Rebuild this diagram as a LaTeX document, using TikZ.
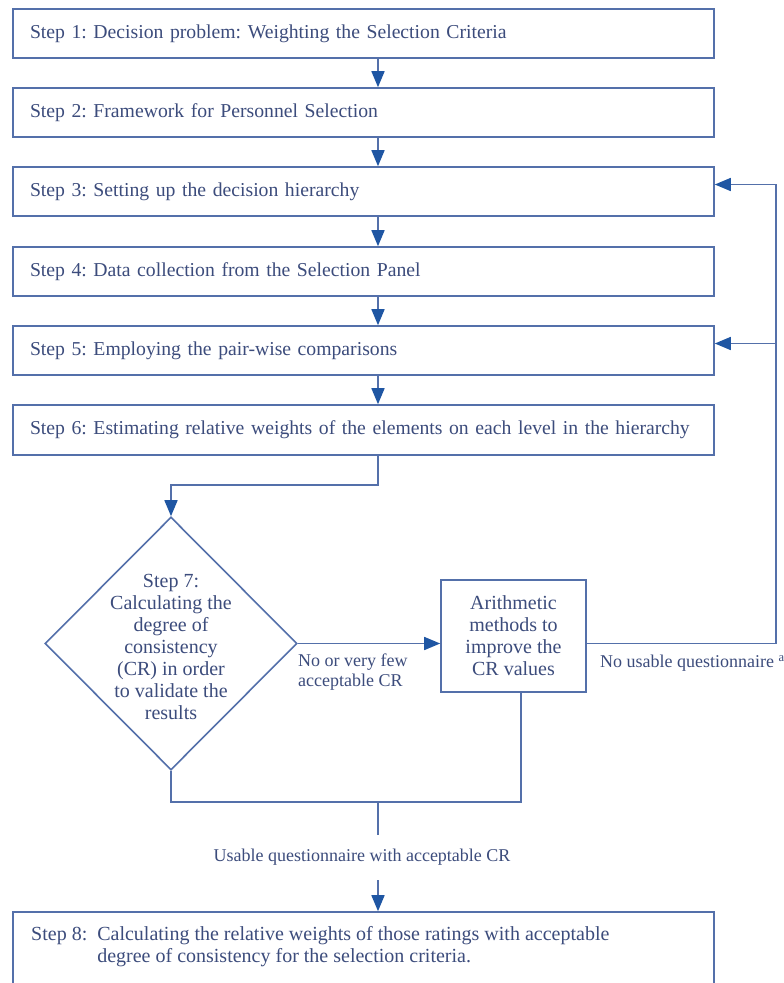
\documentclass[tikz,border=0pt]{standalone}
\usepackage{fontspec}
\setmainfont{Liberation Serif}
\usetikzlibrary{shapes.geometric,arrows.meta,calc}
\definecolor{inkblue}{HTML}{3C4C7C}
\definecolor{edgeblue}{HTML}{5470AA}
\definecolor{tipblue}{HTML}{1F56A3}
\begin{document}
\frenchspacing
\hyphenpenalty=10000
\begin{tikzpicture}[x=1pt,y=-1pt,
  stepbox/.style={draw=edgeblue, line width=1.6pt, rectangle,
    minimum width=701pt, minimum height=49pt, inner xsep=17pt, inner ysep=0pt,
    text width=667pt, align=left, text=inkblue,
    font=\fontsize{19.7}{22}\selectfont},
  plainbox/.style={draw=edgeblue, line width=1.6pt, rectangle, inner sep=0pt},
  decision/.style={draw=edgeblue, line width=1.6pt, diamond, inner sep=0pt,
    minimum width=252pt, minimum height=253pt},
  bodytext/.style={text=inkblue, font=\fontsize{20}{22}\selectfont, inner sep=0pt},
  lbl/.style={text=inkblue, font=\fontsize{18}{20}\selectfont, inner sep=0pt},
  line/.style={draw=edgeblue, line width=1.6pt},
  arr/.style={line, -{Triangle[width=13pt,length=16pt,color=tipblue]}}]

\fill[white] (0,0) rectangle (784,983);
\useasboundingbox (0,0) rectangle (784,983);

% main column of steps
\node[stepbox] (s1) at (363.5,33.5) {Step 1: Decision problem: Weighting the Selection Criteria};
\node[stepbox] (s2) at (363.5,112.5) {Step 2: Framework for Personnel Selection};
\node[stepbox] (s3) at (363.5,191.5) {Step 3: Setting up the decision hierarchy};
\node[stepbox] (s4) at (363.5,271.5) {Step 4: Data collection from the Selection Panel};
\node[stepbox] (s5) at (363.5,350.5) {Step 5: Employing the pair-wise comparisons};
\node[stepbox, minimum height=50pt] (s6) at (363.5,430) {\mbox{Step 6: Estimating relative weights of the elements on each level in the hierarchy}};

% consistency check
\node[decision] (d7) at (171,643.5) {};
\node[bodytext, align=center] (d7t) at (171,646.5)
  {Step 7:\\Calculating the\\degree of\\consistency\\(CR) in order\\to validate the\\results};

\node[plainbox, minimum width=145pt, minimum height=112pt] (ar) at (513.5,636) {};
\node[bodytext, align=center] (art) at (513.5,636)
  {Arithmetic\\methods to\\improve the\\CR values};

% final step (runs past the lower edge)
\node[plainbox, minimum width=701pt, minimum height=83pt] (s8) at (363.5,953.5) {};
\node[bodytext, anchor=west] (s8t) at (31,947)
  {\begin{tabular}{@{}l@{\ \ }l@{}}Step 8: & Calculating the relative weights of those ratings with acceptable\\
   & degree of consistency for the selection criteria.\end{tabular}};

% edge labels
\node[lbl, anchor=west, align=left] (lno) at (298,672.5) {No or very few\\acceptable CR};
\node[lbl, anchor=west] (lnu) at (600,663) {No usable questionnaire \textsuperscript{a}};
\node[lbl, minimum height=45pt] (lu) at (362,857.5) {Usable questionnaire with acceptable CR};

% helper coordinates
\coordinate (ax) at (378,0);
\coordinate (fx) at (776,0);
\coordinate (arx) at (521,0);
\coordinate (m6) at (0,485);
\coordinate (jn) at (378,802);
\coordinate (in3) at ($(s3.east)+(0,-7)$);
\coordinate (in5) at ($(s5.east)+(0,-7)$);

% straight flow
\draw[arr] (ax |- s1.south) -- (ax |- s2.north);
\draw[arr] (ax |- s2.south) -- (ax |- s3.north);
\draw[arr] (ax |- s3.south) -- (ax |- s4.north);
\draw[arr] (ax |- s4.south) -- (ax |- s5.north);
\draw[arr] (ax |- s5.south) -- (ax |- s6.north);
\draw[arr] (ax |- s6.south) |- (d7.north |- m6) -- (d7.north);

% rework loop
\draw[arr] (d7.east) -- (d7.east -| ar.west);
\draw[arr] (ar.east |- d7.east) -| (fx |- in3) -- (in3);
\draw[arr] (fx |- in5) -- (in5);

% merge into step 8
\draw[line] (d7.south) |- (arx |- jn) -- (arx |- ar.south);
\draw[line] (jn) -- (ax |- lu.north);
\draw[arr] (ax |- lu.south) -- (ax |- s8.north);
\end{tikzpicture}
\end{document}
